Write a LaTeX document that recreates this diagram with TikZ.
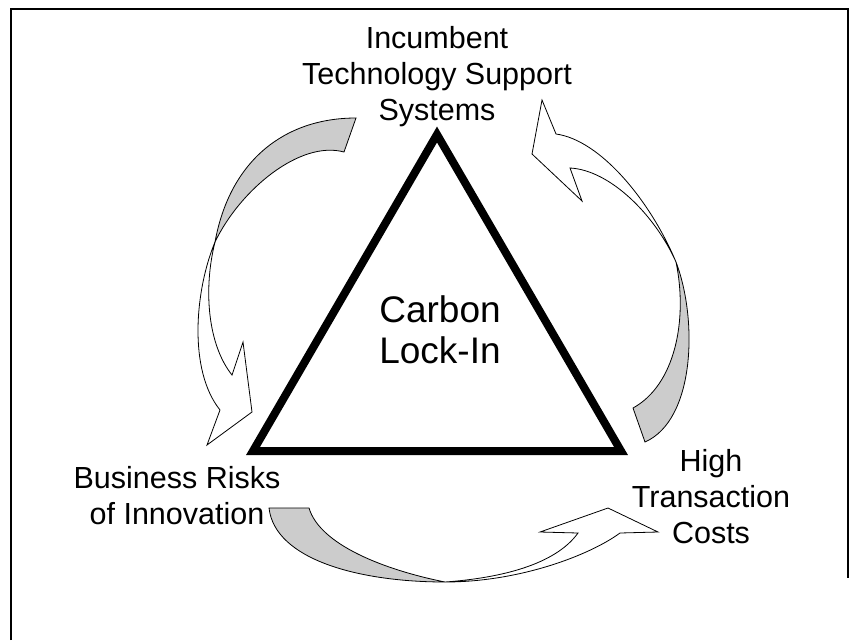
\documentclass[tikz,border=0pt]{standalone}
\usepackage{fontspec}
\setmainfont{Liberation Sans}
\definecolor{ribbongray}{RGB}{204,204,204}

\begin{document}
\begin{tikzpicture}[x=1pt,y=-1pt,
		cornertext/.style={align=center,inner sep=0pt,font=\fontsize{30.5}{36}\selectfont},
		ribbonback/.style={draw=black,line width=.8pt,fill=ribbongray},
		ribbonfront/.style={draw=black,line width=.8pt,fill=white}]
	\useasboundingbox (0,0) rectangle (858,640);
	\draw[line width=1.2pt] (11,640) -- (11,9) -- (848,9) -- (848,578);
	
	\draw[line width=8pt,miter limit=10] (437,134.5) -- (621,451) -- (253,451) -- cycle;
	\node[align=center,inner sep=0pt,font=\fontsize{37}{41}\selectfont] (lockin) at (440,330) {Carbon\\Lock-In};
	
	\node[cornertext] (support) at (437,77) {Incumbent\\Technology Support\\Systems};
	\node[cornertext] (risks) at (177,496) {Business Risks\\of Innovation};
	\node[cornertext] (costs) at (711,497) {High\\Transaction\\Costs};
	
	% support -> risks
	\filldraw[ribbonback] (356,118) -- (344,152) .. controls (300,140) and (240,190) .. (215,242)
		.. controls (230,160) and (285,118) .. (356,118) -- cycle;
	\filldraw[ribbonfront] (215,242) .. controls (195,290) and (188,370) .. (220,410)
		-- (207,445) -- (252,412) -- (243,342) -- (232,375)
		.. controls (208,345) and (203,290) .. (215,242) -- cycle;
	
	% costs -> support
	\filldraw[ribbonback] (633,408) -- (645,442) .. controls (695,420) and (698,320) .. (676,262)
		.. controls (688,320) and (675,385) .. (633,408) -- cycle;
	\filldraw[ribbonfront] (676,262) .. controls (650,200) and (600,140) .. (556,134)
		-- (542,100) -- (532,154) -- (582,201) -- (570,168)
		.. controls (610,170) and (655,215) .. (676,262) -- cycle;
	
	% risks -> costs
	\filldraw[ribbonback] (269,508) -- (309,508) .. controls (320,545) and (385,570) .. (445,582)
		.. controls (360,582) and (275,560) .. (269,508) -- cycle;
	\filldraw[ribbonfront] (445,582) .. controls (520,582) and (590,555) .. (620,533)
		-- (658,532) -- (608,508) -- (540,532) -- (578,533)
		.. controls (555,565) and (500,578) .. (445,582) -- cycle;
\end{tikzpicture}
\end{document}
